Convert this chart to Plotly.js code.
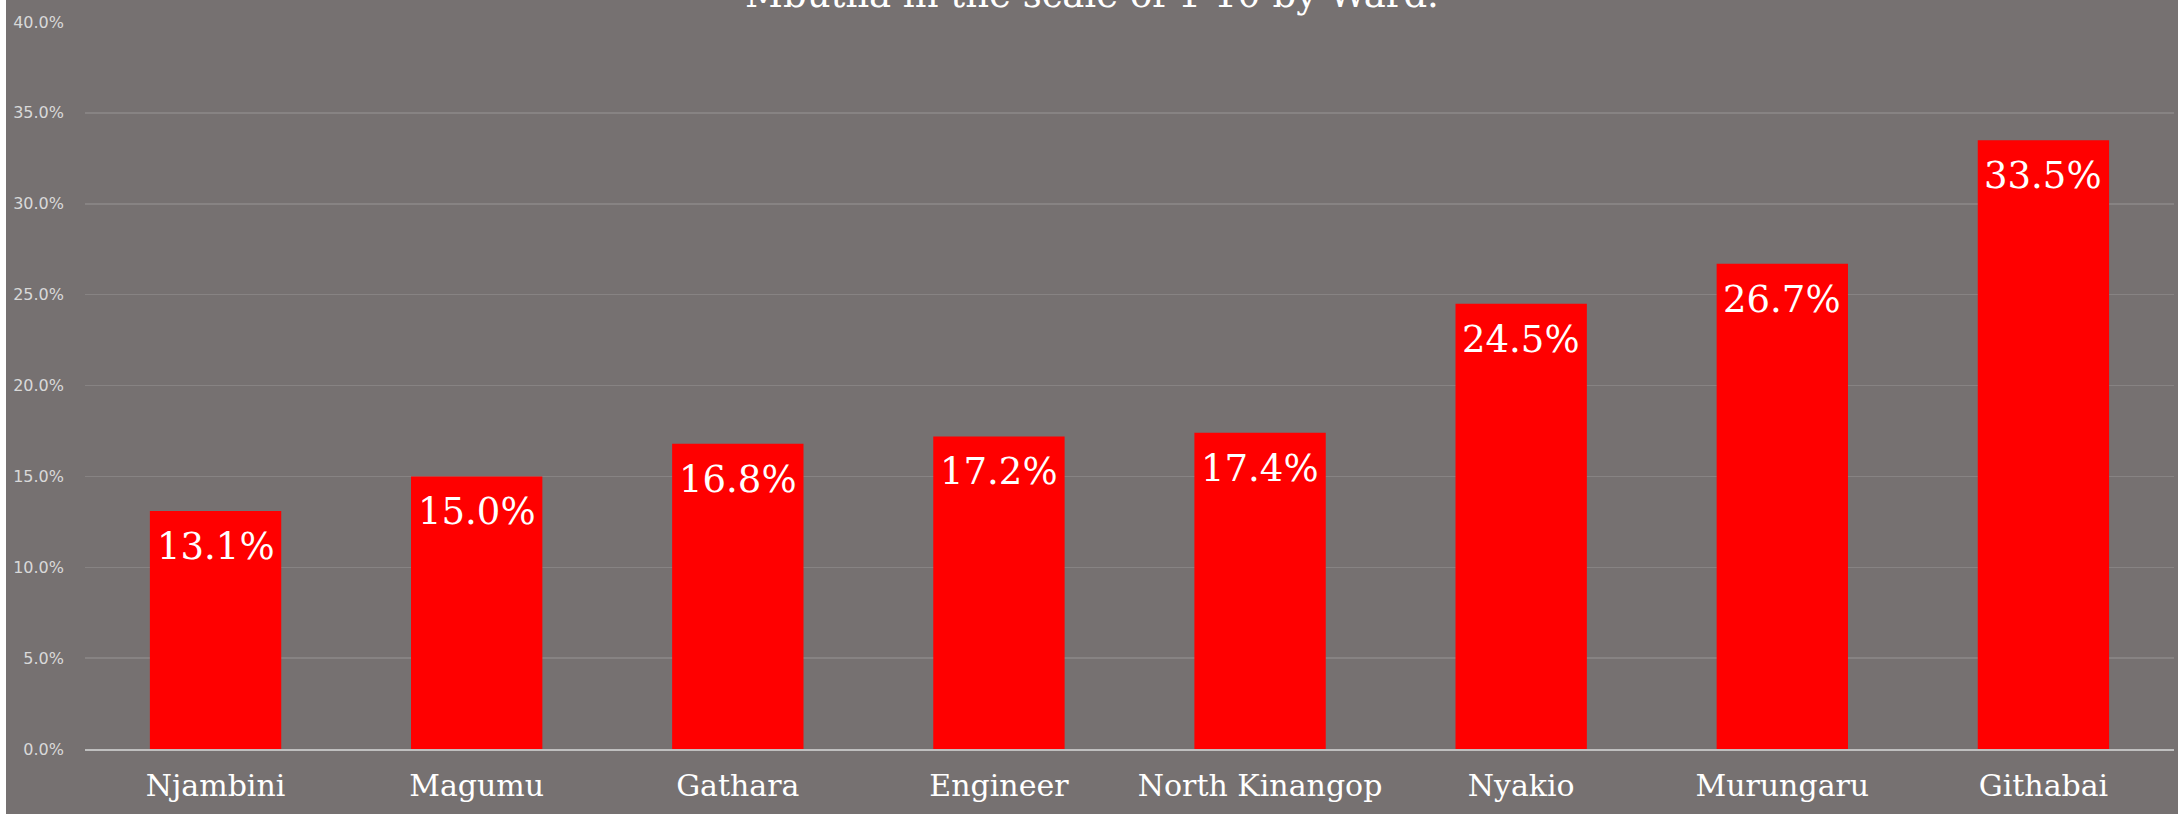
<!DOCTYPE html>
<html>
<head>
<meta charset="utf-8">
<script src="https://cdn.plot.ly/plotly-3.0.1.min.js"></script>
<style>
  html, body { margin: 0; padding: 0; background: #ffffff; }
  #chart { position: absolute; left: 6px; top: 0; width: 2172px; height: 814px; }
</style>
</head>
<body>
<div id="chart"></div>
<script>
const wards = ["Njambini", "Magumu", "Gathara", "Engineer", "North Kinangop", "Nyakio", "Murungaru", "Githabai"];
const shares = [0.131, 0.150, 0.168, 0.172, 0.174, 0.245, 0.267, 0.335];
const titleText = "Mbutiia in the scale of 1-10 by Ward.";

const trace = {
  type: "bar",
  x: wards,
  y: shares,
  marker: { color: "#FF0000", line: { width: 0 } },
  hoverinfo: "skip"
};

const labels = wards.map((w, i) => ({
  x: w,
  y: shares[i],
  xref: "x",
  yref: "y",
  text: (shares[i] * 100).toFixed(1) + "%",
  showarrow: false,
  yanchor: "top",
  xanchor: "center",
  yshift: -12,
  font: { family: "DejaVu Serif", size: 37, color: "#ffffff" }
}));

const layout = {
  width: 2172,
  height: 814,
  paper_bgcolor: "#767171",
  plot_bgcolor: "#767171",
  margin: { l: 79, r: 4, t: 22, b: 65, pad: 0 },
  bargap: 0.497,
  showlegend: false,
  annotations: labels,
  title: {
    text: titleText,
    font: { family: "DejaVu Serif", size: 37, color: "#ffffff" },
    xref: "container", x: 0.5, xanchor: "center",
    yref: "container", y: 0.991, yanchor: "bottom"
  },
  xaxis: {
    type: "category",
    showgrid: false,
    showline: true,
    linecolor: "#bfbfbf",
    linewidth: 1.5,
    zeroline: false,
    ticks: "",
    ticklabelstandoff: 9,
    tickfont: { family: "DejaVu Serif", size: 30, color: "#ffffff" }
  },
  yaxis: {
    range: [0, 0.4],
    dtick: 0.05,
    tick0: 0,
    tickformat: ".1%",
    showgrid: true,
    gridcolor: "#878383",
    gridwidth: 1.5,
    zeroline: false,
    showline: false,
    ticks: "",
    ticklabelstandoff: 20,
    tickfont: { family: "DejaVu Sans", size: 16, color: "#d9d9d9" }
  }
};

Plotly.newPlot("chart", [trace], layout, { displayModeBar: false, staticPlot: true });
</script>
</body>
</html>
